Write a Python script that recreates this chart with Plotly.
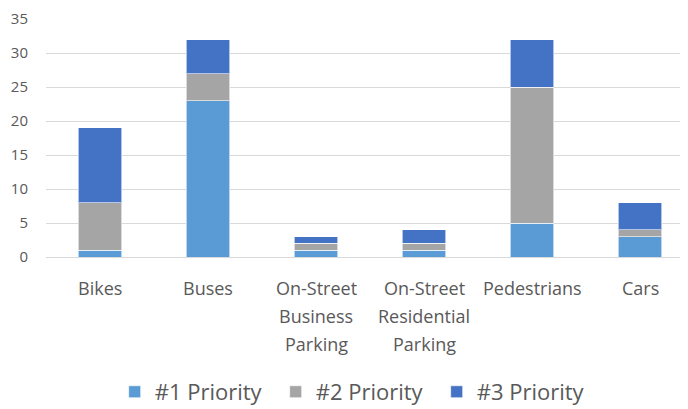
import plotly.graph_objects as go

categories = ["Bikes", "Buses", "On-Street<br>Business<br>Parking", "On-Street<br>Residential<br>Parking", "Pedestrians", "Cars"]
priority1 = [1, 23, 1, 1, 5, 3]
priority2 = [7, 4, 1, 1, 20, 1]
priority3 = [11, 5, 1, 2, 7, 4]
series_names = ["#1 Priority", "#2 Priority", "#3 Priority"]
colors = ["#5B9BD5", "#A5A5A5", "#4472C4"]

FONT = "Open Sans, Segoe UI, sans-serif"
TXT = "#595959"

fig = go.Figure()
xs = list(range(len(categories)))
for name, vals, c in zip(series_names, [priority1, priority2, priority3], colors):
    fig.add_trace(go.Bar(
        x=xs, y=vals, name=name,
        marker=dict(color=c, line=dict(color="rgba(255,255,255,0.6)", width=1)),
        width=0.4,
    ))

# category labels as annotations (multi-line with custom spacing)
for i, cat in enumerate(categories):
    for j, line in enumerate(cat.split("<br>")):
        fig.add_annotation(
            x=i, xref="x", y=0, yref="paper", yanchor="middle", xanchor="center",
            yshift=-31 - 28 * j, text=line, showarrow=False,
            font=dict(family=FONT, size=18, color=TXT),
        )

fig.update_layout(
    barmode="stack",
    width=680, height=401,
    margin=dict(l=38, r=0, t=11, b=152, autoexpand=False),
    plot_bgcolor="white", paper_bgcolor="white",
    font=dict(family=FONT, color=TXT),
    xaxis=dict(
        tickmode="array", tickvals=xs, ticktext=[""] * len(xs),
        range=[-0.5, 5.444], showgrid=False, showline=False, ticks="",
        showticklabels=False,
    ),
    yaxis=dict(
        range=[0, 35.02], tickmode="array", tickvals=[0, 5, 10, 15, 20, 25, 30, 35],
        showgrid=True, gridcolor="#D9D9D9", gridwidth=1,
        zeroline=True, zerolinecolor="#D9D9D9", zerolinewidth=1,
        tickfont=dict(family=FONT, size=15, color=TXT), ticks="", ticklabelstandoff=17,
        ticklabeloverflow="allow",
    ),
    legend=dict(
        orientation="h", x=0.107, xanchor="left", y=-0.567, yanchor="middle",
        font=dict(family=FONT, size=22, color=TXT), traceorder="normal",
        entrywidth=116, entrywidthmode="pixels",
    ),
    showlegend=True,
)

fig.write_html("out.html")
